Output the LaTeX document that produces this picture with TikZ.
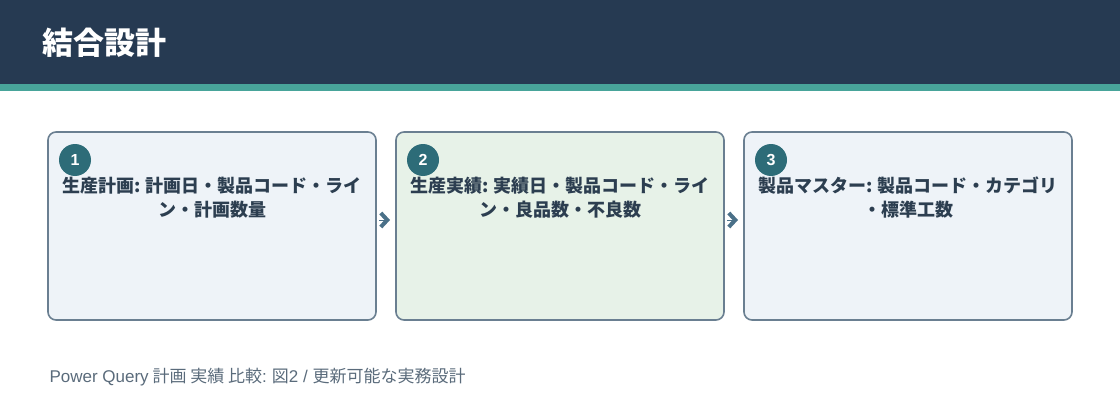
\documentclass[tikz,border=0pt]{standalone}
\usepackage{fontspec}
\setmainfont{Noto Sans CJK JP}
\newfontfamily\latinfont{Liberation Sans}
\usepackage{xcolor}
\usetikzlibrary{backgrounds,calc,positioning,arrows.meta}

\definecolor{hdr}{HTML}{263A52}
\definecolor{stripe}{HTML}{48A49A}
\definecolor{boxline}{HTML}{6A7F91}
\definecolor{planfill}{HTML}{EEF3F8}
\definecolor{actfill}{HTML}{E7F2E8}
\definecolor{numfill}{HTML}{2D6C78}
\definecolor{ink}{HTML}{2C3E50}
\definecolor{arrowc}{HTML}{4A7088}
\definecolor{footc}{HTML}{5A6B7B}

\begin{document}
\begin{tikzpicture}[x=1pt,y=-1pt,node distance=20pt]
  \tikzstyle{box}=[draw=boxline,line width=1.6pt,rounded corners=8pt,minimum width=328pt,minimum height=188pt,inner sep=0pt,outer sep=0pt]
  \tikzstyle{num}=[circle,fill=numfill,text=white,minimum size=32pt,inner sep=0pt,font=\latinfont\bfseries\fontsize{16}{18}\selectfont]
  \tikzstyle{body}=[text=ink,align=center,font=\bfseries\fontsize{18}{24}\selectfont]
  \tikzstyle{arr}=[draw=arrowc,line width=0.2pt,-{Straight Barb[length=6.5pt,width=14pt,line width=4pt]},shorten <=3pt,shorten >=6pt]
  \useasboundingbox (0,0) rectangle (1120,420);
  \fill[hdr] (0,0) rectangle (1120,84);
  \fill[stripe] (0,84) rectangle (1120,91);
  \node[anchor=west,text=white,font=\bfseries\fontsize{31}{36}\selectfont] (title) at (39,43) {結合設計};
  \node[box,fill=planfill] (b_1) at (212,226) {};
  \node[box,fill=actfill] (b_2) [right=of b_1] {};
  \node[box,fill=planfill] (b_3) [right=of b_2] {};
  \node[num] (n_1) at ($(b_1.north west)+(27,28)$) {1};
  \node[num] (n_2) at ($(b_2.north west)+(27,28)$) {2};
  \node[num] (n_3) at ($(b_3.north west)+(27,28)$) {3};
  \node[body] (t_1) at ($(b_1.north)+(0,66)$) {生産計画: 計画日・製品コード・ライ\\ン・計画数量};
  \node[body] (t_2) at ($(b_2.north)+(0,66)$) {生産実績: 実績日・製品コード・ライ\\ン・良品数・不良数};
  \node[body] (t_3) at ($(b_3.north)+(0,66)$) {製品マスター: 製品コード・カテゴリ\\・標準工数};
  \draw[arr] ([yshift=6pt]b_1.east) -- ([yshift=6pt]b_2.west);
  \draw[arr] ([yshift=6pt]b_2.east) -- ([yshift=6pt]b_3.west);
  \node[anchor=west,text=footc,font=\fontsize{17}{20}\selectfont] (note) at (46,377) {{\latinfont Power Query} 計画 実績 比較{\latinfont :} 図{\latinfont 2 / }更新可能な実務設計};
\end{tikzpicture}
\end{document}
